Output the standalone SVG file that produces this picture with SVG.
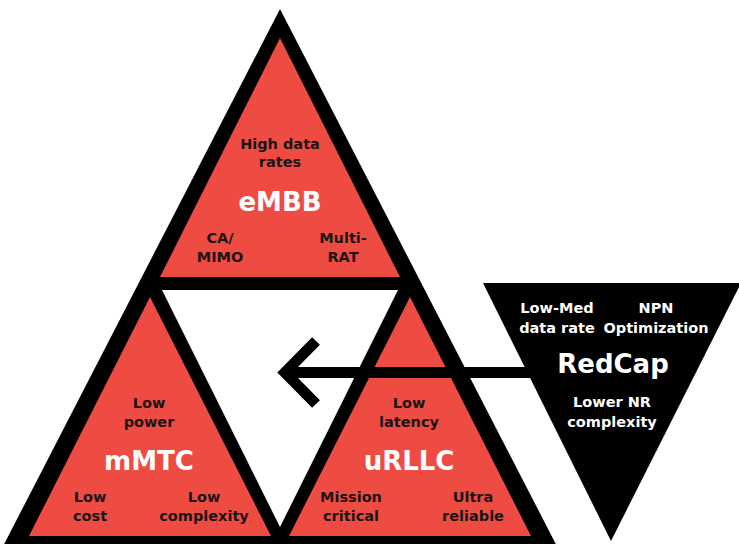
<svg xmlns="http://www.w3.org/2000/svg" width="739" height="544" viewBox="0 0 739 544">
<style>
.red{fill:#ee4b43}
.blk{fill:#000}
.wht{fill:#fff}
text{font-family:"DejaVu Sans","Liberation Sans",sans-serif;font-weight:bold;text-anchor:middle}
.s{font-size:14.5px;fill:#1c1412}
.sw{font-size:14.5px;fill:#fff}
.b{font-size:26px;fill:#fff}
</style>
<rect width="739" height="544" fill="#fff"/>
<g id="frame">
<polygon class="blk" points="280,9 -2,556 562,556"/>
<polygon class="wht" points="162,290 398,290 280,527"/>
</g>
<g id="node-embb">
<polygon class="red" points="280,38 160,277 400,277"/>
<text class="s" x="280" y="149">High data</text>
<text class="s" x="280" y="167">rates</text>
<text class="b" x="280" y="211">eMBB</text>
<text class="s" x="220" y="243">CA/</text>
<text class="s" x="220" y="262">MIMO</text>
<text class="s" x="343" y="243">Multi-</text>
<text class="s" x="343" y="262">RAT</text>
</g>
<g id="node-mmtc">
<polygon class="red" points="150,297 29,536 271,536"/>
<text class="s" x="149" y="408">Low</text>
<text class="s" x="149" y="427">power</text>
<text class="b" x="149" y="470">mMTC</text>
<text class="s" x="90" y="502">Low</text>
<text class="s" x="90" y="521">cost</text>
<text class="s" x="204" y="502">Low</text>
<text class="s" x="204" y="521">complexity</text>
</g>
<g id="node-urllc">
<polygon class="red" points="410,297 289,536 531,536"/>
<text class="s" x="409" y="408">Low</text>
<text class="s" x="409" y="427">latency</text>
<text class="b" x="409" y="470">uRLLC</text>
<text class="s" x="351" y="502">Mission</text>
<text class="s" x="351" y="521">critical</text>
<text class="s" x="473" y="502">Ultra</text>
<text class="s" x="473" y="521">reliable</text>
</g>
<g id="node-redcap">
<polygon class="blk" points="483,283 741,283 611,541"/>
<text class="sw" x="557" y="313">Low-Med</text>
<text class="sw" x="557" y="333">data rate</text>
<text class="sw" x="656" y="313">NPN</text>
<text class="sw" x="656" y="333">Optimization</text>
<text class="b" x="613" y="373">RedCap</text>
<text class="sw" x="612" y="407">Lower NR</text>
<text class="sw" x="612" y="427">complexity</text>
</g>
<g id="connectors" fill="none" stroke="#000" stroke-width="11">
<line x1="290" y1="372.5" x2="545" y2="372.5"/>
<polyline points="316,341 285,372.5 316,404" stroke-linejoin="miter"/>
</g>
</svg>
